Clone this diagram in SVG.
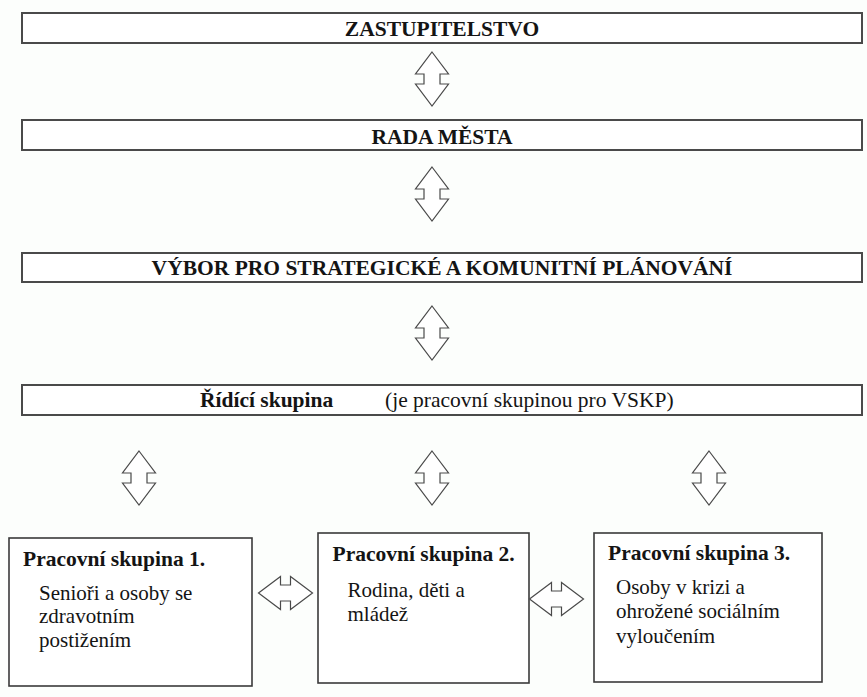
<svg xmlns="http://www.w3.org/2000/svg" width="867" height="697" viewBox="0 0 867 697">
<style>
.bg{fill:#fcfefc}
.band{fill:#ffffff;stroke:#4a4a4a;stroke-width:2}
.box{fill:#ffffff;stroke:#3a3a3a;stroke-width:1.6}
.arr{fill:#ffffff;stroke:#4a4a4a;stroke-width:1.2;stroke-linejoin:miter}
text{font-family:'Liberation Serif','Times New Roman',serif;fill:#141414}
.h{font-size:21.5px;font-weight:bold;text-anchor:middle}
.tt{font-size:21.5px;font-weight:bold}
.body{font-size:21px}
.note{font-size:21.5px}
</style>
<defs>
<path id="varrow" class="arr" d="M0,0 L16.5,22 L8,22 L8,32 L16.5,32 L0,54 L-16.5,32 L-8,32 L-8,22 L-16.5,22 Z"/>
<path id="harrow" class="arr" d="M0,0 L22,-16.5 L22,-8 L32,-8 L32,-16.5 L54,0 L32,16.5 L32,8 L22,8 L22,16.5 Z"/>
</defs>
<rect class="bg" x="0" y="0" width="867" height="697"/>

<g id="zastupitelstvo">
<rect class="band" x="22" y="13" width="840" height="30"/>
<text class="h" x="442" y="36">ZASTUPITELSTVO</text>
</g>
<g id="rada-mesta">
<rect class="band" x="22" y="120" width="840" height="30"/>
<text class="h" x="442" y="143.5">RADA MĚSTA</text>
</g>
<g id="vybor">
<rect class="band" x="22" y="253" width="840" height="29"/>
<text class="h" x="442" y="274.5">VÝBOR PRO STRATEGICKÉ A KOMUNITNÍ PLÁNOVÁNÍ</text>
</g>
<g id="ridici-skupina">
<rect class="band" x="22" y="385" width="840" height="30"/>
<text class="tt" x="200" y="406.5">Řídící skupina</text>
<text class="note" x="385" y="406.5">(je pracovní skupinou pro VSKP)</text>
</g>
<g id="ps1">
<rect class="box" x="9" y="538" width="243" height="148"/>
<text class="tt" x="23" y="565.5">Pracovní skupina 1.</text>
<text class="body" x="39" y="599.5">Senioři a osoby se</text>
<text class="body" x="39" y="623">zdravotním</text>
<text class="body" x="39" y="647">postižením</text>
</g>
<g id="ps2">
<rect class="box" x="318" y="533" width="211" height="150"/>
<text class="tt" x="332.5" y="561">Pracovní skupina 2.</text>
<text class="body" x="347.5" y="596.5">Rodina, děti a</text>
<text class="body" x="347.5" y="620.5">mládež</text>
</g>
<g id="ps3">
<rect class="box" x="594" y="533" width="228" height="149"/>
<text class="tt" x="608" y="560">Pracovní skupina 3.</text>
<text class="body" x="616" y="593.5">Osoby v krizi a</text>
<text class="body" x="616" y="618">ohrožené sociálním</text>
<text class="body" x="616" y="642.5">vyloučením</text>
</g>

<g id="connectors">
<use href="#varrow" x="432" y="52"/>
<use href="#varrow" x="432" y="167"/>
<use href="#varrow" x="432" y="306"/>
<use href="#varrow" x="139" y="451"/>
<use href="#varrow" x="432" y="451"/>
<use href="#varrow" x="709" y="451"/>
<use href="#harrow" x="258.5" y="593"/>
<use href="#harrow" x="529.5" y="599"/>
</g>
</svg>
